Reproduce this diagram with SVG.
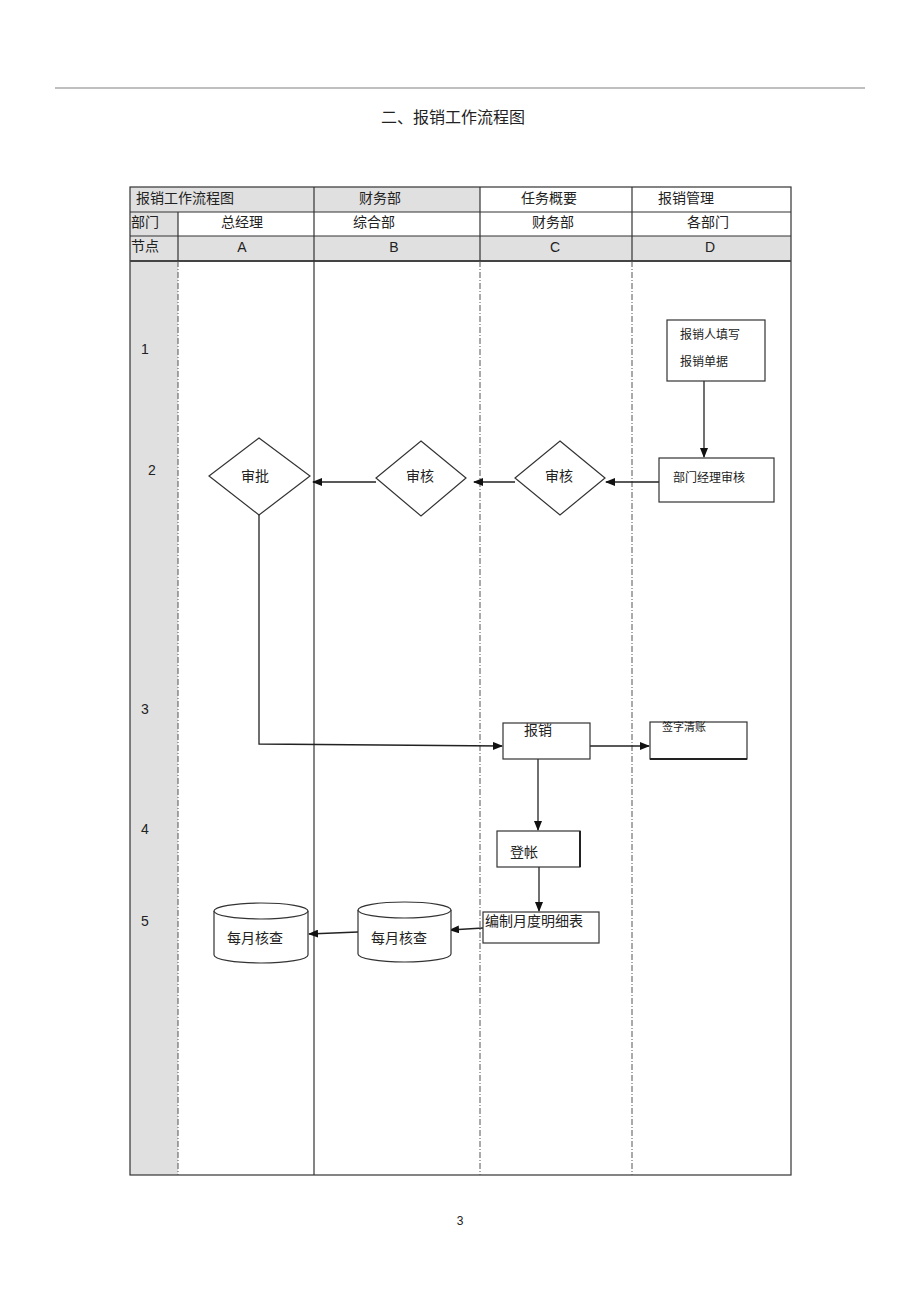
<svg xmlns="http://www.w3.org/2000/svg" width="920" height="1303" viewBox="0 0 920 1303">
<defs>
<style>
.t{font-family:"Liberation Sans","Noto Sans CJK SC",sans-serif;fill:#222;}
.s{fill:none;stroke:#333;stroke-width:1.2;}
.node{fill:#fff;stroke:#333;stroke-width:1.2;}
.c{fill:none;stroke:#222;stroke-width:1.3;}
.dash{stroke:#555;stroke-width:1;stroke-dasharray:6,2,1,2;}
</style>
<marker id="ah" markerWidth="10" markerHeight="8" refX="9" refY="4" orient="auto" markerUnits="userSpaceOnUse">
<path d="M0,0 L10,4 L0,8 Z" fill="#111"/>
</marker>
</defs>
<rect width="920" height="1303" fill="#fff"/>
<line x1="55" y1="88" x2="865" y2="88" stroke="#aaa" stroke-width="1.5"/>
<text class="t" x="453" y="123" font-size="16" text-anchor="middle">二、报销工作流程图</text>

<g id="table">
<rect x="130" y="187" width="350" height="25" fill="#e0e0e0"/>
<rect x="130" y="212" width="48" height="24" fill="#e0e0e0"/>
<rect x="130" y="236" width="661" height="25" fill="#e0e0e0"/>
<rect x="130" y="261" width="48" height="914" fill="#e0e0e0"/>
<rect x="130" y="187" width="661" height="988" class="s"/>
<line x1="130" y1="212" x2="791" y2="212" class="s"/>
<line x1="130" y1="236" x2="791" y2="236" class="s"/>
<line x1="130" y1="261" x2="791" y2="261" stroke="#444" stroke-width="2"/>
<line x1="314" y1="187" x2="314" y2="1175" class="s"/>
<line x1="480" y1="187" x2="480" y2="261" class="s"/>
<line x1="632" y1="187" x2="632" y2="261" class="s"/>
<line x1="178" y1="212" x2="178" y2="261" class="s"/>
<line x1="178" y1="261" x2="178" y2="1175" class="dash"/>
<line x1="480" y1="261" x2="480" y2="1175" class="dash"/>
<line x1="632" y1="261" x2="632" y2="1175" class="dash"/>
<text class="t" x="136" y="203" font-size="14">报销工作流程图</text>
<text class="t" x="380" y="203" font-size="14" text-anchor="middle">财务部</text>
<text class="t" x="549" y="203" font-size="14" text-anchor="middle">任务概要</text>
<text class="t" x="686" y="203" font-size="14" text-anchor="middle">报销管理</text>
<text class="t" x="131" y="227" font-size="14">部门</text>
<text class="t" x="242" y="227" font-size="14" text-anchor="middle">总经理</text>
<text class="t" x="374" y="227" font-size="14" text-anchor="middle">综合部</text>
<text class="t" x="553" y="227" font-size="14" text-anchor="middle">财务部</text>
<text class="t" x="708" y="227" font-size="14" text-anchor="middle">各部门</text>
<text class="t" x="131" y="251" font-size="14">节点</text>
<text class="t" x="242" y="252" font-size="14" text-anchor="middle">A</text>
<text class="t" x="394" y="252" font-size="14" text-anchor="middle">B</text>
<text class="t" x="555" y="252" font-size="14" text-anchor="middle">C</text>
<text class="t" x="710" y="252" font-size="14" text-anchor="middle">D</text>
<text class="t" x="145" y="354" font-size="14" text-anchor="middle">1</text>
<text class="t" x="152" y="475" font-size="14" text-anchor="middle">2</text>
<text class="t" x="145" y="714" font-size="14" text-anchor="middle">3</text>
<text class="t" x="145" y="834" font-size="14" text-anchor="middle">4</text>
<text class="t" x="145" y="926" font-size="14" text-anchor="middle">5</text>
</g>

<g id="connectors">
<line x1="704" y1="381" x2="704" y2="457" class="c" marker-end="url(#ah)"/>
<line x1="659" y1="482" x2="606" y2="482" class="c" marker-end="url(#ah)"/>
<line x1="515" y1="482" x2="474" y2="482" class="c" marker-end="url(#ah)"/>
<line x1="376" y1="482" x2="313" y2="482" class="c" marker-end="url(#ah)"/>
<polyline points="259,515 259,744 502,746" class="c" marker-end="url(#ah)"/>
<line x1="590" y1="746" x2="649" y2="746" class="c" marker-end="url(#ah)"/>
<line x1="538" y1="759" x2="538" y2="830" class="c" marker-end="url(#ah)"/>
<line x1="539" y1="867" x2="539" y2="911" class="c" marker-end="url(#ah)"/>
<line x1="483" y1="928" x2="450" y2="930" class="c" marker-end="url(#ah)"/>
<line x1="358" y1="932" x2="309" y2="934" class="c" marker-end="url(#ah)"/>
</g>

<g id="n-fill">
<rect x="667" y="320" width="98" height="61" class="node"/>
<text class="t" x="680" y="339" font-size="12">报销人填写</text>
<text class="t" x="680" y="366" font-size="12">报销单据</text>
</g>
<g id="n-mgr">
<rect x="659" y="458" width="115" height="44" class="node"/>
<text class="t" x="673" y="482" font-size="12">部门经理审核</text>
</g>
<g id="n-auditC">
<polygon points="560,441 605,478 560,515 515,478" class="node"/>
<text class="t" x="559" y="481" font-size="14" text-anchor="middle">审核</text>
</g>
<g id="n-auditB">
<polygon points="421,441 466,478 421,516 376,478" class="node"/>
<text class="t" x="420" y="481" font-size="14" text-anchor="middle">审核</text>
</g>
<g id="n-approve">
<polygon points="259,438 310,476 259,515 209,476" class="node"/>
<text class="t" x="255" y="481" font-size="14" text-anchor="middle">审批</text>
</g>
<g id="n-reimb">
<rect x="503" y="723" width="87" height="36" class="node"/>
<text class="t" x="524" y="735" font-size="14">报销</text>
</g>
<g id="n-sign">
<rect x="650" y="722" width="97" height="37" class="node"/>
<line x1="650" y1="759" x2="747" y2="759" stroke="#222" stroke-width="2"/>
<text class="t" x="662" y="731" font-size="11">签字清账</text>
</g>
<g id="n-book">
<rect x="497" y="831" width="83" height="36" class="node"/>
<line x1="580" y1="831" x2="580" y2="867" stroke="#222" stroke-width="2"/>
<text class="t" x="510" y="857" font-size="14">登帐</text>
</g>
<g id="n-report">
<rect x="483" y="912" width="116" height="31" class="node"/>
<text class="t" x="485" y="926" font-size="14">编制月度明细表</text>
</g>
<g id="n-checkB">
<path d="M358,910 L358,954 A46.5,8 0 0 0 451,954 L451,910" class="node"/>
<ellipse cx="404.5" cy="910" rx="46.5" ry="8" class="node"/>
<text class="t" x="399" y="943" font-size="14" text-anchor="middle">每月核查</text>
</g>
<g id="n-checkA">
<path d="M214,911 L214,955 A47,8 0 0 0 308,955 L308,911" class="node"/>
<ellipse cx="261" cy="911" rx="47" ry="8" class="node"/>
<text class="t" x="255" y="943" font-size="14" text-anchor="middle">每月核查</text>
</g>
<text class="t" x="460" y="1225" font-size="12" text-anchor="middle">3</text>
</svg>
